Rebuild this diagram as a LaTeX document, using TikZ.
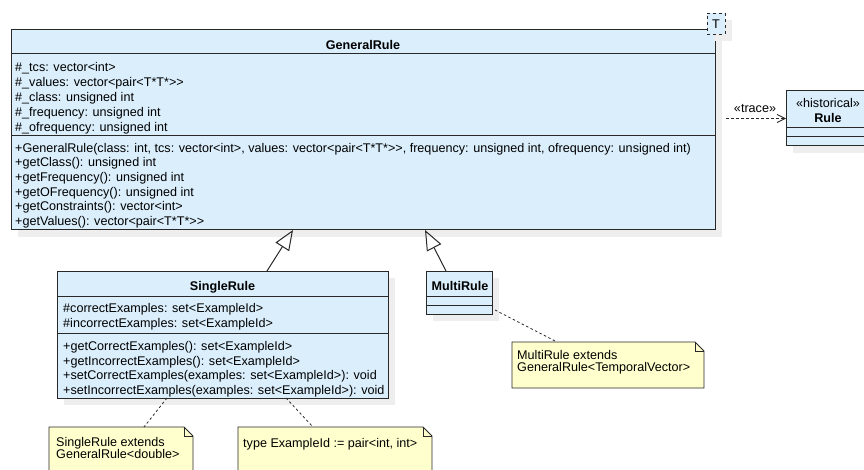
\documentclass[tikz,border=0pt]{standalone}
\usepackage{fontspec}
\setmainfont{Liberation Sans}
\usetikzlibrary{arrows.meta,calc,shadows}
\definecolor{classfill}{RGB}{218,238,252}
\definecolor{notefill}{RGB}{255,255,206}
\definecolor{edge}{RGB}{40,40,40}
\definecolor{shade}{RGB}{238,238,238}
% two separate '>' characters (keeps the font from joining them)
\newcommand\twogt{>\kern0pt>}
\begin{document}
\begin{tikzpicture}[x=1pt,y=-1pt,
  boxshadow/.style={drop shadow={shadow xshift=7pt,shadow yshift=-7pt,fill=shade,opacity=1}},
  classbox/.style={draw=edge, fill=classfill, line width=1pt, inner sep=0pt, outer sep=0pt, anchor=north west, boxshadow},
  member/.style={anchor=base west, inner sep=0pt, font=\fontsize{12.6}{14}\selectfont},
  title/.style={anchor=base, inner sep=0pt, font=\fontsize{12.6}{14}\selectfont\bfseries},
  plain/.style={anchor=base, inner sep=0pt, font=\fontsize{12.6}{14}\selectfont},
  divider/.style={draw=edge, line width=1pt},
  notebox/.style={anchor=north west, inner sep=0pt, outer sep=0pt},
  noteedge/.style={draw=edge, fill=notefill, line width=0.8pt},
  tie/.style={draw=edge, line width=0.8pt, dash pattern=on 2.5pt off 2.5pt},
  inherit/.style={draw=edge, line width=1pt, -{Triangle[open, length=20pt, width=16pt]}},
  tracedep/.style={draw=edge, line width=0.8pt, dash pattern=on 3pt off 2pt, -{Straight Barb[length=8pt, width=8pt]}},
]
\clip (0,0) rectangle (864,470);

% ---------- GeneralRule ----------
\node[classbox, minimum width=704pt, minimum height=200pt] (general) at (11,30) {};
\draw[divider] ($(general.north west)+(0,24)$) -- ($(general.north east)+(0,24)$);
\draw[divider] ($(general.north west)+(0,106)$) -- ($(general.north east)+(0,106)$);
\node[title] (generalname) at (363,49.5) {GeneralRule};
\foreach \t [count=\i] in {
  {\#\_tcs: vector<int>},
  {\#\_values: vector<pair<T*T*\twogt},
  {\#\_class: unsigned int},
  {\#\_frequency: unsigned int},
  {\#\_ofrequency: unsigned int}}
  \node[member] (ga\i) at (15,{71.2+15*(\i-1)}) {\t};
\foreach \t [count=\i] in {
  {+GeneralRule(class: int, tcs: vector<int>, values: vector<pair<T*T*\twogt, frequency: unsigned int, ofrequency: unsigned int)},
  {+getClass(): unsigned int},
  {+getFrequency(): unsigned int},
  {+getOFrequency(): unsigned int},
  {+getConstraints(): vector<int>},
  {+getValues(): vector<pair<T*T*\twogt}}
  \node[member] (go\i) at (15,{152.2+14.65*(\i-1)}) {\t};

% template parameter
\node[classbox, dashed, line width=0.8pt, minimum width=18pt, minimum height=21pt] (tparam) at (707,13) {};
\node[plain] (tname) at (tparam.center |- 0,28.5) {T};

% ---------- Rule ----------
\node[classbox, minimum width=84pt, minimum height=55pt] (rule) at (786,91) {};
\draw[divider] ($(rule.north west)+(0,37)$) -- ($(rule.north east)+(0,37)$);
\draw[divider] ($(rule.north west)+(0,46)$) -- ($(rule.north east)+(0,46)$);
\node[plain] (rulestereo) at (828,107.5) {«historical»};
\node[title] (rulename) at (828,122.5) {Rule};

\draw[tracedep] ($(general.east |- rule.west)+(11,0)$) -- (rule.west);
\node[plain] (tracelabel) at (755,112.5) {«trace»};

% ---------- SingleRule ----------
\node[classbox, minimum width=331pt, minimum height=127pt] (single) at (57,271) {};
\draw[divider] ($(single.north west)+(0,25)$) -- ($(single.north east)+(0,25)$);
\draw[divider] ($(single.north west)+(0,62)$) -- ($(single.north east)+(0,62)$);
\node[title] (singlename) at (222.5,290.5) {SingleRule};
\foreach \t [count=\i] in {
  {\#correctExamples: set<ExampleId>},
  {\#incorrectExamples: set<ExampleId>}}
  \node[member] (sa\i) at (63,{312.5+14.8*(\i-1)}) {\t};
\foreach \t [count=\i] in {
  {+getCorrectExamples(): set<ExampleId>},
  {+getIncorrectExamples(): set<ExampleId>},
  {+setCorrectExamples(examples: set<ExampleId>): void},
  {+setIncorrectExamples(examples: set<ExampleId>): void}}
  \node[member] (so\i) at (63,{350.5+14.5*(\i-1)}) {\t};

% ---------- MultiRule ----------
\node[classbox, minimum width=66pt, minimum height=43pt] (multi) at (426,271) {};
\draw[divider] ($(multi.north west)+(0,25)$) -- ($(multi.north east)+(0,25)$);
\draw[divider] ($(multi.north west)+(0,34)$) -- ($(multi.north east)+(0,34)$);
\node[title] (multiname) at (460,290.5) {MultiRule};

% generalizations
\draw[inherit] ($(single.north west)+(210,0)$) -- ($(general.south west)+(282,0)$);
\draw[inherit] ($(multi.north west)+(20,0)$) -- ($(general.south west)+(414,0)$);

% ---------- notes ----------
\node[notebox, minimum width=144pt, minimum height=60pt] (snote) at (49,427) {};
\node[notebox, minimum width=194pt, minimum height=60pt] (tnote) at (238,427) {};
\node[notebox, minimum width=192pt, minimum height=46pt] (mnote) at (512,342) {};
\foreach \n in {snote,tnote,mnote}{
  \path[noteedge] (\n.north west) -- ($(\n.north east)+(-9,0)$) -- ($(\n.north east)+(0,9)$)
    -- (\n.south east) -- (\n.south west) -- cycle;
  \draw[edge, line width=0.8pt] ($(\n.north east)+(-9,0)$) -- ($(\n.north east)+(-9,9)$) -- ($(\n.north east)+(0,9)$);
}
\node[member] (snote1) at (56,446.2) {SingleRule extends};
\node[member] (snote2) at (56,458.8) {GeneralRule<double>};
\node[member] (tnote1) at (243,447.5) {type ExampleId := pair<int, int>};
\node[member] (mnote1) at (517,359.5) {MultiRule extends};
\node[member] (mnote2) at (517,371.8) {GeneralRule<TemporalVector>};

\draw[tie] ($(single.south west)+(110,0)$) -- ($(snote.north west)+(95,0)$);
\draw[tie] ($(single.south west)+(229,0)$) -- ($(tnote.north west)+(75,0)$);
\draw[tie] ($(multi.south east)+(3,-4)$) -- ($(mnote.north west)+(45,0)$);
\end{tikzpicture}
\end{document}
